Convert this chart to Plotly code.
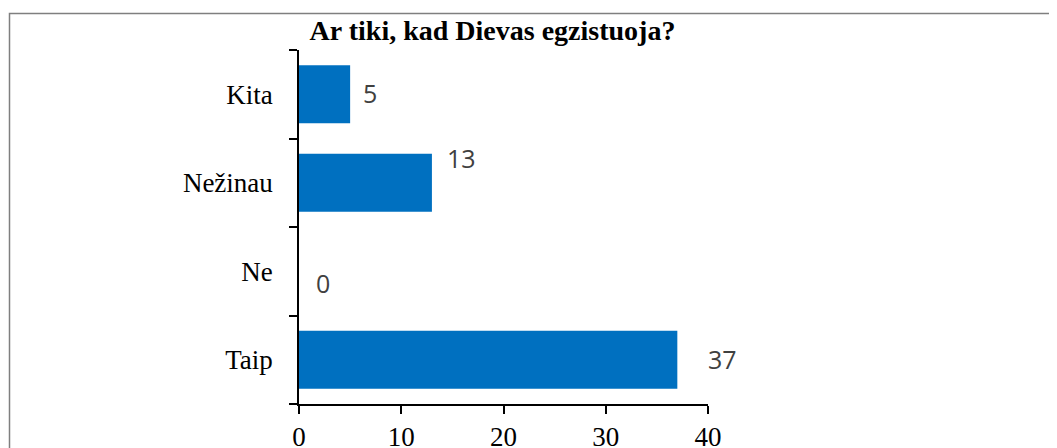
import plotly.graph_objects as go

# Data (bottom to top)
categories = ["Taip", "Ne", "Nežinau", "Kita"]
values = [37, 0, 13, 5]
x_ticks = [0, 10, 20, 30, 40]
title_text = "Ar tiki, kad Dievas egzistuoja?"

# label nudges (pixels) to mimic manually placed labels
label_xshift = [29, 15, 13, 11]
label_yshift = [1, -12, 25, 1]

BAR = "#0070C0"
SERIF = "Liberation Serif, Times New Roman, serif"
SANS = "Open Sans, Noto Sans, sans-serif"

# The page body has an 8px margin; size the figure so the plot lands where the reference has it.
OFF = 8
W, H = 1057 - OFF, 448 - OFF
PL, PR, PT, PB = 299, 708, 50, 404  # plot area in page pixels
L, T = PL - OFF, PT - OFF
R = W - (PR - OFF)
B = H - (PB - OFF)
pw, ph = W - L - R, H - T - B

def px_to_paper_x(px):
    return (px - PL) / pw

def px_to_paper_y(py):
    return (PB - py) / ph

fig = go.Figure()
fig.add_trace(go.Bar(
    x=values, y=categories, orientation="h",
    marker=dict(color=BAR, line=dict(width=0)),
    hoverinfo="skip",
))

for c, v, dx, dy in zip(categories, values, label_xshift, label_yshift):
    fig.add_annotation(
        x=v, y=c, xref="x", yref="y", text=str(v), showarrow=False,
        xanchor="left", yanchor="middle", xshift=dx, yshift=dy,
        font=dict(family=SANS, size=25, color="#404040"),
    )

# outer border (gray frame)
fig.add_shape(
    type="rect", xref="paper", yref="paper",
    x0=px_to_paper_x(9.5), x1=px_to_paper_x(1080),
    y0=px_to_paper_y(480), y1=px_to_paper_y(13.5),
    line=dict(color="#7f7f7f", width=1.5), fillcolor="rgba(0,0,0,0)",
    layer="below",
)

fig.update_layout(
    template="none",
    width=W, height=H,
    margin=dict(l=L, r=R, t=T, b=B, pad=0),
    paper_bgcolor="white", plot_bgcolor="white",
    showlegend=False,
    bargap=0.344,
    title=dict(
        text="<b>" + title_text + "</b>",
        x=px_to_paper_x(492.5), xref="paper", xanchor="center",
        y=1 - (30 - OFF) / H, yref="container", yanchor="middle",
        font=dict(family=SERIF, size=28, color="black"),
    ),
    xaxis=dict(
        range=[0, 40], tickvals=x_ticks, ticktext=[str(t) for t in x_ticks],
        showgrid=False, zeroline=False, showline=True, linecolor="black", linewidth=1.5,
        ticks="outside", ticklen=8, tickwidth=1.5, tickcolor="black",
        tickfont=dict(family=SERIF, size=27, color="black"),
        automargin=False, fixedrange=True,
    ),
    yaxis=dict(
        categoryorder="array", categoryarray=categories,
        showgrid=False, zeroline=False, showline=True, linecolor="black", linewidth=1.5,
        ticks="outside", ticklen=8, tickwidth=1.5, tickcolor="black",
        tickson="boundaries", ticklabelstandoff=19,
        tickfont=dict(family=SERIF, size=27, color="black"),
        automargin=False, fixedrange=True,
    ),
)

fig.write_html("out.html", config={"displayModeBar": False})
